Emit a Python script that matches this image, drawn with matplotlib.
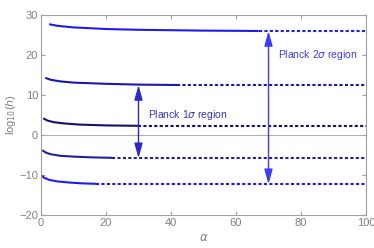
import numpy as np
import matplotlib
matplotlib.use('Agg')
import matplotlib.pyplot as plt

plt.rcParams['font.family'] = ['Liberation Sans', 'DejaVu Sans']
plt.rcParams['mathtext.fontset'] = 'dejavusans'

# 곡선 데이터 (실선 구간)
x1 = [2.5, 5, 10, 20, 30, 40, 50, 60, 67]
y1 = [27.7, 27.3, 26.9, 26.5, 26.3, 26.2, 26.1, 26.05, 26.0]
x2 = [1.3, 3, 6, 10, 20, 30, 42]
y2 = [14.3, 13.8, 13.4, 13.1, 12.8, 12.6, 12.5]
x3 = [0.7, 2, 4, 7, 12, 20, 30]
y3 = [4.2, 3.6, 3.2, 2.9, 2.6, 2.4, 2.3]
x4 = [0.4, 1.5, 3, 6, 10, 16, 22]
y4 = [-3.8, -4.4, -4.8, -5.2, -5.4, -5.6, -5.7]
x5 = [0.2, 1, 2.5, 5, 9, 13, 17]
y5 = [-10.2, -10.7, -11.2, -11.6, -11.9, -12.1, -12.2]

# 점선 구간 (끝 값)
dot_levels = [26.0, 12.4, 2.2, -5.8, -12.3]

curves = [(x1, y1), (x2, y2), (x3, y3), (x4, y4), (x5, y5)]
colors = ['#1c1cee', '#1818b0', '#12126e', '#2020a4', '#1c1cf0']

fig = plt.figure(figsize=(3.74, 2.48), dpi=100)
ax = fig.add_axes([0.1096, 0.133, 0.869, 0.8065])

ax.axhline(0, color='#b0b0b0', lw=0.8, zorder=0)

for (xs, ys), lev, c in zip(curves, dot_levels, colors):
    ax.plot(xs, ys, color=c, lw=1.5, solid_capstyle='butt')
    ax.plot([xs[-1], 100], [lev, lev], color=c, lw=1.5, linestyle=(0, (1.5, 1.1)))

# 화살표
arrow_style = '<|-|>,head_length=0.9,head_width=0.25'
ax.annotate('', xy=(30, 12.5), xytext=(30, -5.8),
            arrowprops=dict(arrowstyle=arrow_style, color='#2a2ac8', lw=1.0,
                            shrinkA=0, shrinkB=0))
ax.annotate('', xy=(70, 26.0), xytext=(70, -12.3),
            arrowprops=dict(arrowstyle=arrow_style, color='#3c3cff', lw=1.0,
                            shrinkA=0, shrinkB=0))

ax.text(33, 5, r'Planck 1$\sigma$ region', color='#3535c8', fontsize=7.5, va='center')
ax.text(73, 20, r'Planck 2$\sigma$ region', color='#3c3cf0', fontsize=7.5, va='center')

ax.set_xlim(0, 100)
ax.set_ylim(-20, 30)
ax.set_xticks([0, 20, 40, 60, 80, 100])
ax.set_yticks([-20, -10, 0, 10, 20, 30])
ax.set_yticklabels(['\u221220', '\u221210', '0', '10', '20', '30'])
for s in ax.spines.values():
    s.set_color('#a0a0a0')
ax.tick_params(direction='in', length=3, color='#a0a0a0', labelcolor='#808080',
               labelsize=8, top=True, right=True, pad=2)
ax.set_xlabel(r'$\alpha$', color='#808080', fontsize=8.5, labelpad=3)
ax.set_ylabel(r'log$_{10}$($h$)', color='#808080', fontsize=8, labelpad=1)

fig.savefig('out.png', dpi=100)
